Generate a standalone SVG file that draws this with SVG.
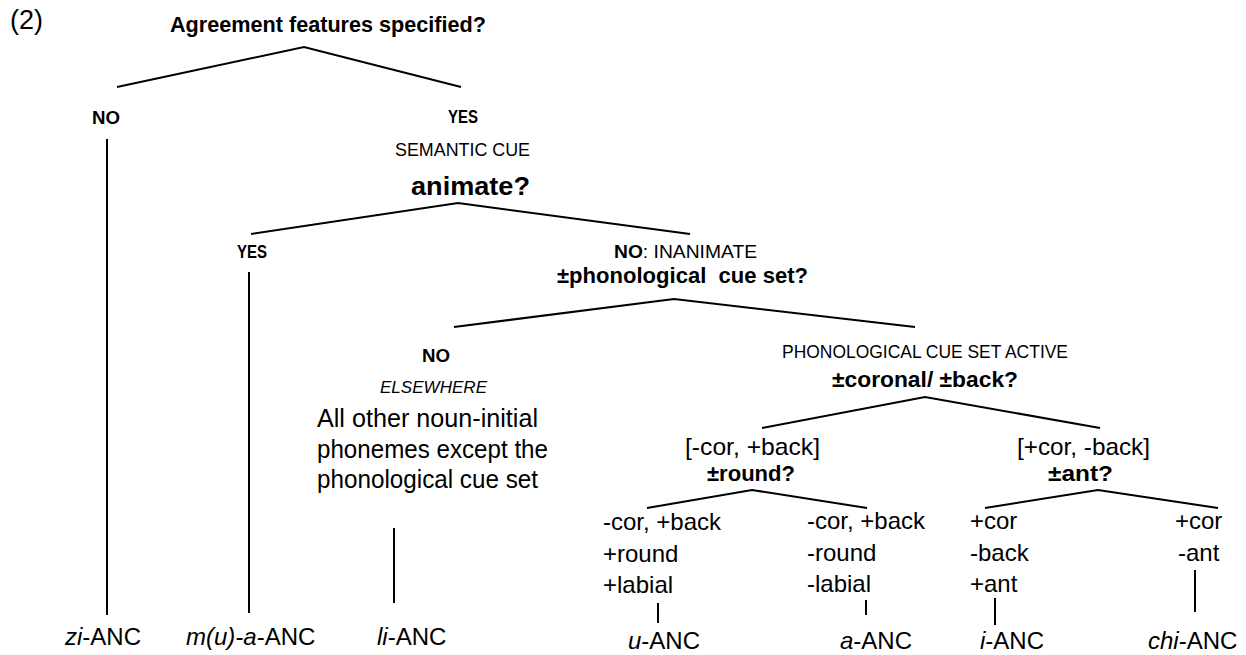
<svg xmlns="http://www.w3.org/2000/svg" width="1246" height="655" viewBox="0 0 1246 655">
<style>
text{font-family:"Liberation Sans",Arial,sans-serif;fill:#000;font-size:24px}
.b{font-weight:bold}
.i{font-style:italic}
.h{font-weight:bold;font-size:18px}
.q{font-weight:bold;font-size:22px}
.conn line,.conn polyline{stroke:#000;stroke-width:2;fill:none}
</style>
<rect width="1246" height="655" fill="#fff"/>

<g id="example-number"><text x="10" y="29" style="font-size:27px">(2)</text></g>

<g id="n-root">
<text class="q" x="170" y="32" textLength="316" lengthAdjust="spacingAndGlyphs">Agreement features specified?</text>
</g>

<g id="n-no-agr">
<text class="h" x="92" y="124" textLength="28" lengthAdjust="spacingAndGlyphs">NO</text>
</g>

<g id="n-yes-agr">
<text class="h" x="448" y="123" textLength="30" lengthAdjust="spacingAndGlyphs">YES</text>
<text x="395" y="156" style="font-size:18px" textLength="135" lengthAdjust="spacingAndGlyphs">SEMANTIC CUE</text>
<text class="b" x="411" y="195" style="font-size:25px" textLength="119" lengthAdjust="spacingAndGlyphs">animate?</text>
</g>

<g id="n-yes-animate">
<text class="h" x="237" y="258" textLength="30" lengthAdjust="spacingAndGlyphs">YES</text>
</g>

<g id="n-no-inanimate">
<text x="614" y="258" style="font-size:19px" textLength="143" lengthAdjust="spacingAndGlyphs"><tspan class="b">NO</tspan>: INANIMATE</text>
<text class="q" x="557" y="283" xml:space="preserve" textLength="251" lengthAdjust="spacingAndGlyphs">±phonological  cue set?</text>
</g>

<g id="n-elsewhere">
<text class="h" x="422" y="362" textLength="28" lengthAdjust="spacingAndGlyphs">NO</text>
<text class="i" x="380" y="393" style="font-size:17px" textLength="107" lengthAdjust="spacingAndGlyphs">ELSEWHERE</text>
<text x="317" y="427" style="font-size:25px" textLength="221" lengthAdjust="spacingAndGlyphs">All other noun-initial</text>
<text x="317" y="458" style="font-size:25px" textLength="231" lengthAdjust="spacingAndGlyphs">phonemes except the</text>
<text x="317" y="488" style="font-size:25px" textLength="221" lengthAdjust="spacingAndGlyphs">phonological cue set</text>
</g>

<g id="n-active">
<text x="782" y="358" style="font-size:18px" textLength="286" lengthAdjust="spacingAndGlyphs">PHONOLOGICAL CUE SET ACTIVE</text>
<text class="q" x="832" y="387" textLength="186" lengthAdjust="spacingAndGlyphs">±coronal/ ±back?</text>
</g>

<g id="n-round">
<text x="685" y="455" textLength="135" lengthAdjust="spacingAndGlyphs">[-cor, +back]</text>
<text class="q" x="707" y="481" textLength="88" lengthAdjust="spacingAndGlyphs">±round?</text>
</g>

<g id="n-ant">
<text x="1017" y="455" textLength="133" lengthAdjust="spacingAndGlyphs">[+cor, -back]</text>
<text class="q" x="1048" y="481" textLength="65" lengthAdjust="spacingAndGlyphs">±ant?</text>
</g>

<g id="n-plus-round">
<text x="603" y="530">-cor, +back</text>
<text x="603" y="562">+round</text>
<text x="603" y="593">+labial</text>
</g>

<g id="n-minus-round">
<text x="807" y="529">-cor, +back</text>
<text x="807" y="561">-round</text>
<text x="807" y="592">-labial</text>
</g>

<g id="n-plus-ant">
<text x="970" y="529">+cor</text>
<text x="970" y="561">-back</text>
<text x="970" y="592">+ant</text>
</g>

<g id="n-minus-ant">
<text x="1175" y="529">+cor</text>
<text x="1178" y="561">-ant</text>
</g>

<g id="out-zi"><text x="65" y="645"><tspan class="i">zi</tspan>-ANC</text></g>
<g id="out-mua"><text x="186" y="645"><tspan class="i">m(u)-a</tspan>-ANC</text></g>
<g id="out-li"><text x="377" y="645"><tspan class="i">li</tspan>-ANC</text></g>
<g id="out-u"><text x="628" y="649"><tspan class="i">u</tspan>-ANC</text></g>
<g id="out-a"><text x="840" y="649"><tspan class="i">a</tspan>-ANC</text></g>
<g id="out-i"><text x="980" y="649"><tspan class="i">i</tspan>-ANC</text></g>
<g id="out-chi"><text x="1148" y="649"><tspan class="i">chi</tspan>-ANC</text></g>

<g class="conn" id="connectors">
<polyline points="117,87 304,47 461,87"/>
<line x1="107" y1="139" x2="107" y2="615"/>
<polyline points="251,234 458,203 690,234"/>
<line x1="249" y1="272" x2="249" y2="613"/>
<polyline points="454,327 674,299 915,327"/>
<line x1="394" y1="528" x2="394" y2="603"/>
<polyline points="762,428 925,397 1100,428"/>
<polyline points="647,508 752,490 867,508"/>
<polyline points="985,508 1098,490 1218,508"/>
<line x1="658" y1="603" x2="658" y2="623"/>
<line x1="866" y1="600" x2="866" y2="615"/>
<line x1="995" y1="598" x2="995" y2="625"/>
<line x1="1195" y1="570" x2="1195" y2="612"/>
</g>
</svg>
